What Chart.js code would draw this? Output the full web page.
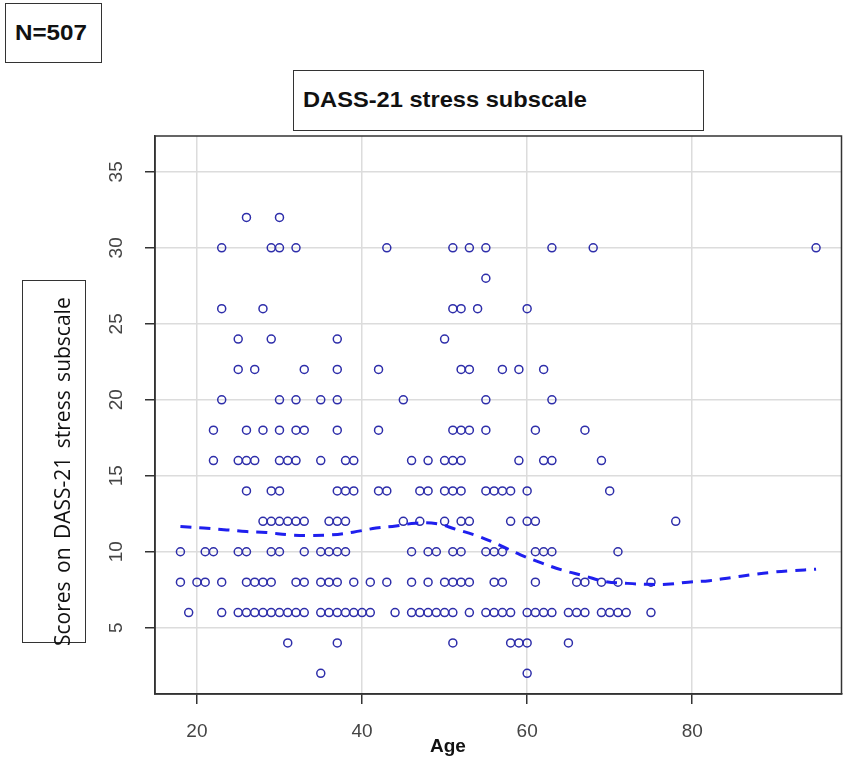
<!DOCTYPE html>
<html>
<head>
<meta charset="utf-8">
<script src="https://cdn.jsdelivr.net/npm/chart.js@4.4.1/dist/chart.umd.min.js"></script>
<style>
  html, body { margin: 0; padding: 0; background: #fff; }
  #wrap { position: relative; width: 847px; height: 758px; overflow: hidden; }
  canvas { position: absolute; left: 0; top: 0; }
  .box { position: absolute; border: 1.5px solid #333; background: #fff; box-sizing: border-box; }
  .bold { font-family: "Liberation Sans", Arial, sans-serif; font-weight: bold; color: #111; }
  .stretch { display: inline-block; transform-origin: 0 50%; transform: scaleX(1.1); }
</style>
</head>
<body>
<div id="wrap">
  <canvas id="c" width="847" height="758"></canvas>
  <div class="box bold" style="left:5px;top:3px;width:97px;height:60px;font-size:22px;line-height:58px;padding-left:9px;"><span class="stretch">N=507</span></div>
  <div class="box bold" style="left:293px;top:70px;width:411px;height:61px;font-size:21.5px;line-height:59px;padding-left:9px;"><span class="stretch">DASS-21 stress subscale</span></div>
  <div class="box" style="left:22px;top:280px;width:64px;height:363px;"></div>
  <div style="position:absolute;left:62px;top:646px;transform-origin:0 0;transform:rotate(-90deg) translateY(-50%);white-space:nowrap;font-family:'Open Sans',sans-serif;font-size:21px;line-height:26px;word-spacing:3px;color:#111;">Scores on DASS-21 stress subscale</div>
  <div class="bold" style="position:absolute;left:448px;top:735px;transform:translateX(-50%);font-size:19px;">Age</div>
</div>
<script>
// Ages of respondents at each DASS-21 stress score
const agesScore32 = [26, 30];
const agesScore30 = [23, 29, 30, 32, 43, 51, 53, 55, 63, 68, 95];
const agesScore28 = [55];
const agesScore26 = [23, 28, 51, 52, 54, 60];
const agesScore24 = [25, 29, 37, 50];
const agesScore22 = [25, 27, 33, 37, 42, 52, 53, 57, 59, 62];
const agesScore20 = [23, 30, 32, 35, 37, 45, 55, 63];
const agesScore18 = [22, 26, 28, 30, 32, 33, 37, 42, 51, 52, 53, 55, 61, 67];
const agesScore16 = [22, 25, 26, 27, 30, 31, 32, 35, 38, 39, 46, 48, 50, 51, 52, 59, 62, 63, 69];
const agesScore14 = [26, 29, 30, 37, 38, 39, 42, 43, 47, 48, 50, 51, 52, 55, 56, 57, 58, 60, 70];
const agesScore12 = [28, 29, 30, 31, 32, 33, 36, 37, 38, 45, 47, 50, 52, 53, 58, 60, 61, 78];
const agesScore10 = [18, 21, 22, 25, 26, 29, 30, 33, 35, 36, 37, 38, 46, 48, 49, 51, 52, 55, 56, 57, 61, 62, 63, 71];
const agesScore8  = [18, 20, 21, 23, 26, 27, 28, 29, 32, 33, 35, 36, 37, 39, 41, 43, 46, 48, 50, 51, 52, 53, 56, 57, 61, 66, 67, 69, 71, 75];
const agesScore6  = [19, 23, 25, 26, 27, 28, 29, 30, 31, 32, 33, 35, 36, 37, 38, 39, 40, 41, 44, 46, 47, 48, 49, 50, 51, 53, 55, 56, 57, 58, 60, 61, 62, 63, 65, 66, 67, 69, 70, 71, 72, 75];
const agesScore4  = [31, 37, 51, 58, 59, 60, 65];
const agesScore2  = [35, 60];

const scoreLevels = [32, 30, 28, 26, 24, 22, 20, 18, 16, 14, 12, 10, 8, 6, 4, 2];
const agesByLevel = [agesScore32, agesScore30, agesScore28, agesScore26, agesScore24, agesScore22,
  agesScore20, agesScore18, agesScore16, agesScore14, agesScore12, agesScore10, agesScore8,
  agesScore6, agesScore4, agesScore2];

// Smoothed (loess) curve
const loessAge   = [18, 20.8, 23.6, 26, 28.4, 31.2, 33.6, 36.3, 38.9, 41.7, 44.1, 46.5, 49.1, 51.3, 54.2, 56.6, 59.2, 61.8, 64.2, 66.8, 69.5, 71.9, 74.3, 76.9, 79.5, 82.1, 84.7, 87.1, 89.8, 92.2, 95];
const loessScore = [11.66, 11.56, 11.44, 11.33, 11.27, 11.11, 11.07, 11.11, 11.29, 11.56, 11.7, 11.88, 11.84, 11.49, 11.0, 10.45, 9.8, 9.25, 8.8, 8.43, 8.04, 7.93, 7.86, 7.86, 8.0, 8.1, 8.3, 8.48, 8.66, 8.76, 8.85];

// Axis ticks
const xTicks = [20, 40, 60, 80];
const yTicks = [5, 10, 15, 20, 25, 30, 35];
const xRange = [14.92, 98.08];
const yRange = [0.64, 37.36];

const scatterPoints = [];
scoreLevels.forEach((s, i) => agesByLevel[i].forEach(a => scatterPoints.push({x: a, y: s})));
const loessPoints = loessAge.map((a, i) => ({x: a, y: loessScore[i]}));

const boxPlugin = {
  id: 'plotBox',
  afterDraw(chart) {
    const {ctx, chartArea: a} = chart;
    ctx.save();
    ctx.strokeStyle = '#333';
    ctx.lineWidth = 1.5;
    ctx.strokeRect(a.left, a.top, a.right - a.left, a.bottom - a.top);
    ctx.restore();
  }
};

const tickFont = {family: "'Liberation Sans', Arial, sans-serif", size: 19};

new Chart(document.getElementById('c'), {
  type: 'scatter',
  data: {
    datasets: [
      {
        type: 'line',
        data: loessPoints,
        showLine: true,
        borderColor: '#1f1fee',
        borderWidth: 3,
        borderDash: [11, 8],
        pointRadius: 0,
        tension: 0.4,
        fill: false
      },
      {
        data: scatterPoints,
        pointStyle: 'circle',
        pointRadius: 4,
        pointBorderWidth: 1.5,
        pointBorderColor: '#2e2eaa',
        pointBackgroundColor: 'rgba(0,0,0,0)'
      }
    ]
  },
  plugins: [boxPlugin],
  options: {
    responsive: false,
    animation: false,
    devicePixelRatio: 1,
    layout: {padding: {left: 0, top: 136, right: 3, bottom: 0}},
    plugins: {legend: {display: false}, tooltip: {enabled: false}},
    scales: {
      x: {
        type: 'linear',
        min: xRange[0], max: xRange[1],
        afterBuildTicks(s) { s.ticks = xTicks.map(v => ({value: v})); },
        afterFit(s) { s.height = 64; },
        grid: {color: '#dcdcdc', lineWidth: 1.5, tickColor: '#333', tickLength: 10, tickWidth: 1.5},
        border: {display: true, color: '#333', width: 1.5},
        ticks: {font: tickFont, color: '#444', padding: 16, maxRotation: 0}
      },
      y: {
        type: 'linear',
        min: yRange[0], max: yRange[1],
        afterBuildTicks(s) { s.ticks = yTicks.map(v => ({value: v})); },
        afterFit(s) { s.width = 155; },
        grid: {color: '#dcdcdc', lineWidth: 1.5, tickColor: '#333', tickLength: 10, tickWidth: 1.5},
        border: {display: true, color: '#333', width: 1.5},
        ticks: {font: tickFont, color: '#444', padding: 18, minRotation: 90, maxRotation: 90, crossAlign: 'center'}
      }
    }
  }
});
</script>
</body>
</html>
